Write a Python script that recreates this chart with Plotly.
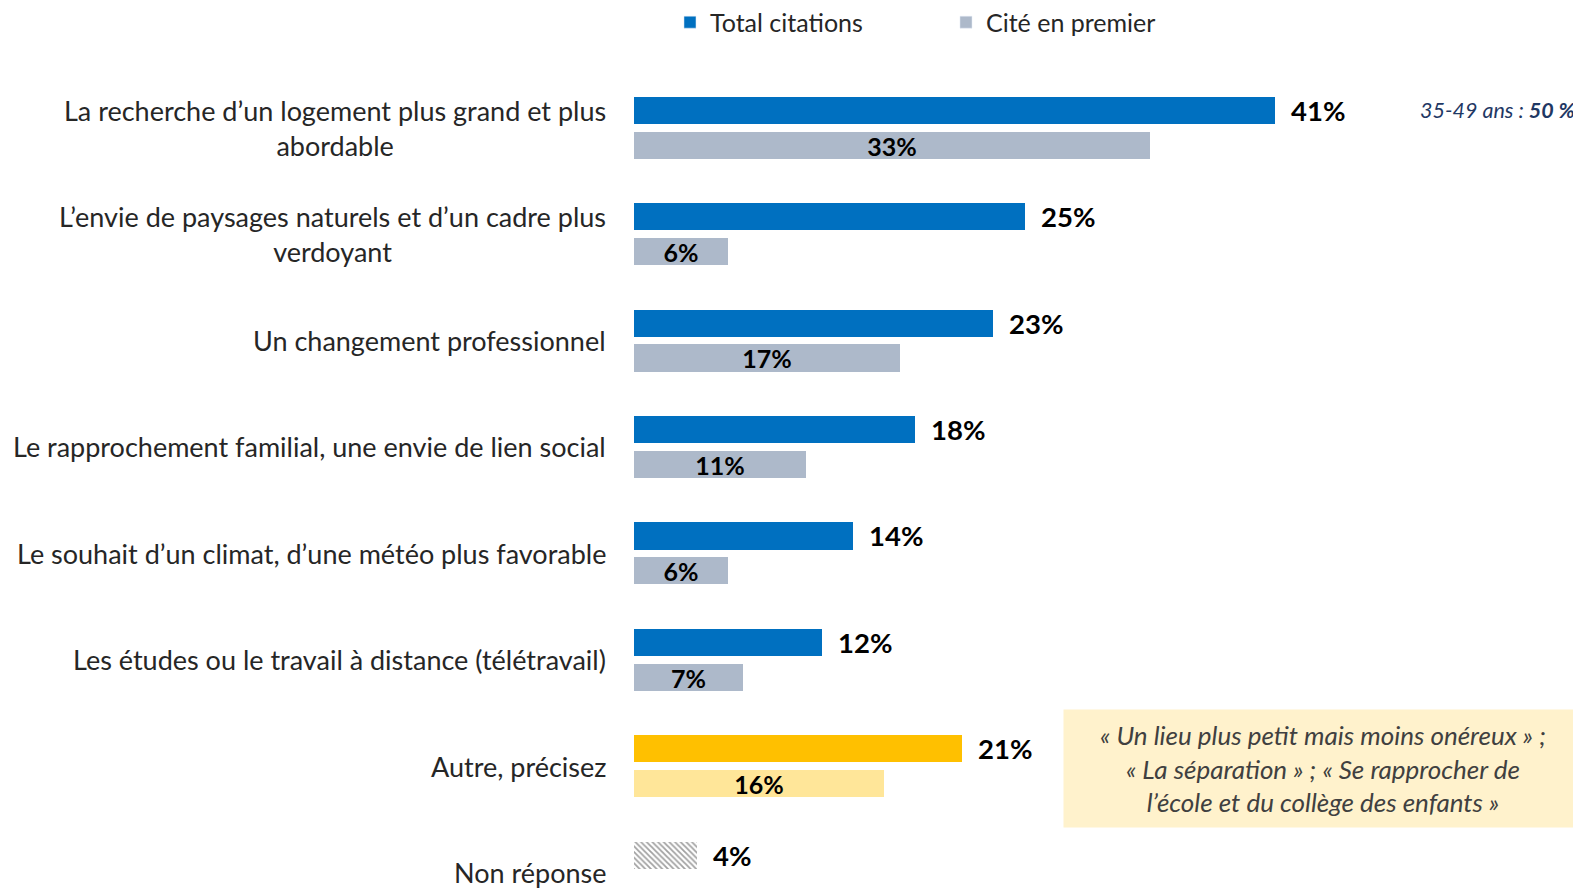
import plotly.graph_objects as go

categories = [
    "La recherche d’un logement plus grand et plus<br>abordable",
    "L’envie de paysages naturels et d’un cadre plus<br>verdoyant",
    "Un changement professionnel",
    "Le rapprochement familial, une envie de lien social",
    "Le souhait d’un climat, d’une météo plus favorable",
    "Les études ou le travail à distance (télétravail)",
    "Autre, précisez",
    "Non réponse",
]
total_citations = [41, 25, 23, 18, 14, 12, 21, 4]
cite_premier = [33, 6, 17, 11, 6, 7, 16, None]

BLUE = "#0070C0"
GREY = "#ADB9CA"
YEL = "#FFC000"
LYEL = "#FFE699"
FONT = "Lato"

n = len(categories)
pos = list(range(n))
off = 0.1635
bw = 0.256

tot_colors = [BLUE] * 6 + [YEL] + ["white"]
cit_colors = [GREY] * 6 + [LYEL] + ["white"]
pattern_shapes = [""] * 7 + ["\\"]

fig = go.Figure()
fig.add_trace(go.Bar(
    x=total_citations, y=[p - off for p in pos], orientation="h", width=bw,
    marker=dict(color=tot_colors, line=dict(width=0),
                pattern=dict(shape=pattern_shapes, fgcolor="#5F5F5F", bgcolor="white",
                             size=4, solidity=0.45)),
    showlegend=False, hoverinfo="skip",
))
fig.add_trace(go.Bar(
    x=cite_premier, y=[p + off for p in pos], orientation="h", width=bw,
    marker=dict(color=cit_colors, line=dict(width=0)),
    text=[f"{v}%" if v is not None else "" for v in cite_premier],
    textposition="inside", insidetextanchor="middle", constraintext="none",
    textfont=dict(family=FONT, size=25, color="black", weight="bold"),
    showlegend=False, hoverinfo="skip",
))
# legend entries
fig.add_trace(go.Bar(x=[None], y=[None], name="Total citations", marker_color=BLUE))
fig.add_trace(go.Bar(x=[None], y=[None], name="Cité en premier", marker_color=GREY))

annotations = []
for p, cat in zip(pos, categories):
    annotations.append(dict(
        x=0, xref="paper", y=p, yref="y", text=cat, showarrow=False,
        xanchor="right", yanchor="middle", align="center", xshift=-26,
        font=dict(family=FONT, size=27, color="#262626"),
    ))
for p, v in zip(pos, total_citations):
    annotations.append(dict(
        x=v, xref="x", y=p - off, yref="y", text=f"<b>{v}%</b>", showarrow=False,
        xanchor="left", yanchor="middle", xshift=14,
        font=dict(family=FONT, size=27.5, color="black"),
    ))
annotations.append(dict(
    x=1.0, xref="paper", y=0 - off, yref="y",
    text="<i>35-49 ans : <b>50 %</b></i>", showarrow=False,
    xanchor="right", yanchor="middle", xshift=-4,
    font=dict(family=FONT, size=21.5, color="#1F3864"),
))
annotations.append(dict(
    x=1.0, xref="paper", y=6, yref="y",
    text="<i>« Un lieu plus petit mais moins onéreux » ;<br>« La séparation » ; « Se rapprocher de<br>l’école et du collège des enfants »</i>",
    showarrow=False, xanchor="right", yanchor="middle", xshift=2, yshift=-2,
    width=516, height=115, bgcolor="#FFF2CC", align="center",
    font=dict(family=FONT, size=26, color="#404040"),
))

fig.update_layout(
    width=1573, height=882,
    margin=dict(l=626, r=0, t=52, b=0, autoexpand=False),
    paper_bgcolor="white", plot_bgcolor="white",
    barmode="overlay", bargap=0,
    xaxis=dict(range=[0, 60.6], visible=False, fixedrange=True),
    yaxis=dict(range=[7.164, -0.637], visible=False, fixedrange=True),
    legend=dict(orientation="h", x=0.038, xanchor="left", y=1.073, yanchor="top",
                yref="paper", font=dict(family=FONT, size=25, color="#262626"),
                entrywidth=231, itemwidth=30, traceorder="normal"),
    annotations=annotations,
    font=dict(family=FONT),
)
fig.write_html("out.html")
